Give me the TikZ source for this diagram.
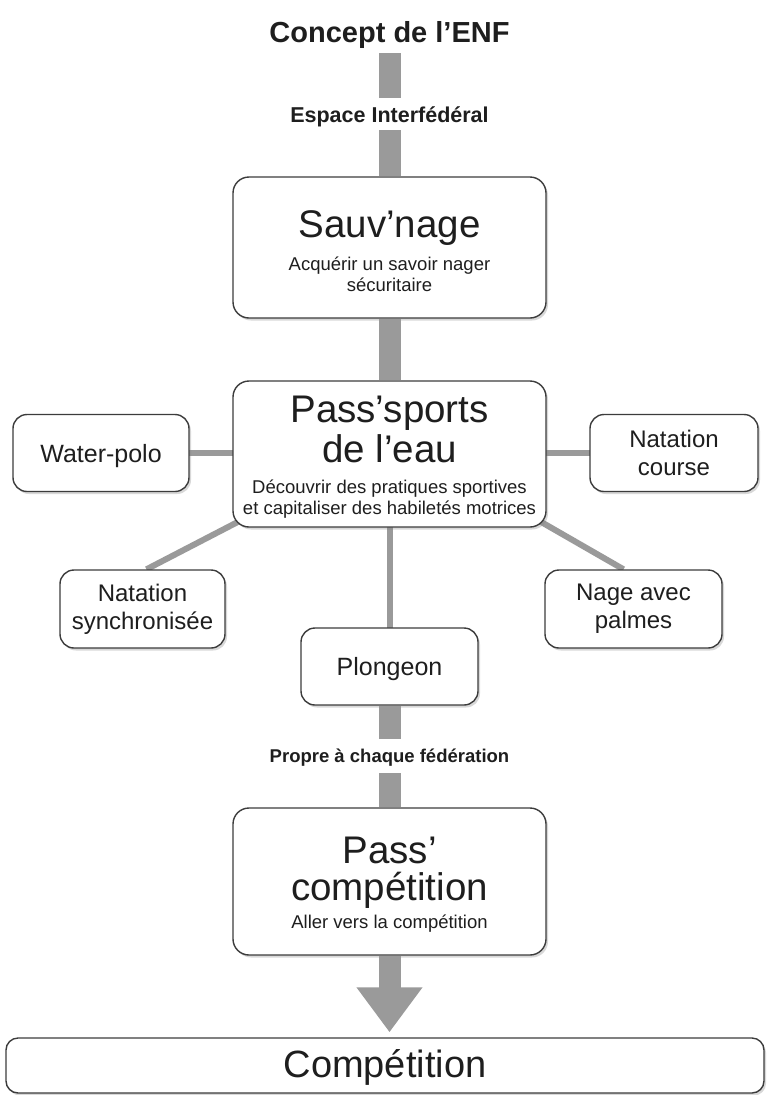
\documentclass[tikz,border=0pt]{standalone}
\usepackage{fontspec}
\setmainfont{Liberation Sans}
\usetikzlibrary{shadows,arrows.meta,backgrounds}
\definecolor{bargray}{HTML}{9A9A9A}
\definecolor{framegray}{HTML}{3C3C3C}
\definecolor{txt}{HTML}{1E1E1E}
\tikzset{
  box/.style={draw=framegray, line width=1.4pt, fill=white, rounded corners=16pt,
    inner sep=0pt, align=center, text=txt,
    drop shadow={shadow xshift=2pt, shadow yshift=-2.5pt, opacity=0.3}},
  smallbox/.style={box, rounded corners=14pt, minimum height=77pt,
    font=\fontsize{24}{28}\selectfont},
  bigbox/.style={box, minimum width=313pt},
  bigtext/.style={inner sep=0pt, anchor=base, text=txt, font=\fontsize{38.5}{40}\selectfont},
  subtext/.style={inner sep=0pt, anchor=base, text=txt, font=\fontsize{18.5}{21}\selectfont},
  lab/.style={inner sep=0pt, text=txt},
  bar/.style={draw=bargray, line width=22pt},
  conn/.style={draw=bargray, line width=6pt}
}
\begin{document}
\begin{tikzpicture}[x=1pt, y=-1pt]
\useasboundingbox (0,0) rectangle (767,1095);

% title and labels
\node[lab, anchor=base, text depth=11pt, font=\bfseries\fontsize{29}{32}\selectfont] (title) at (389.5,42) {Concept de l’ENF};
\node[lab, text height=24pt, text depth=8pt, font=\bfseries\fontsize{21.5}{24}\selectfont] (esp) at (389.5,114) {Espace Interfédéral};
\node[lab, text height=23pt, text depth=11pt, font=\bfseries\fontsize{18.5}{21}\selectfont] (prop) at (389.5,756) {Propre à chaque fédération};

% big boxes
\node[bigbox, minimum height=141pt] (sauv) at (389.5,247.5) {};
\node[bigtext] (sauvT) at (389.5,237) {Sauv’nage};
\node[subtext] (sauvS1) at (389.5,270) {Acquérir un savoir nager};
\node[subtext] (sauvS2) at (389.5,291) {sécuritaire};

\node[bigbox, minimum height=146pt] (pass) at (389.5,454) {};
\node[bigtext] (passT1) at (389.5,422) {Pass’sports};
\node[bigtext] (passT2) at (389.5,462) {de l’eau};
\node[subtext] (passS1) at (389.5,493) {Découvrir des pratiques sportives};
\node[subtext] (passS2) at (389.5,514) {et capitaliser des habiletés motrices};

\node[bigbox, minimum height=147pt] (comp) at (389.5,881.5) {};
\node[bigtext] (compT1) at (389.5,863) {Pass’};
\node[bigtext] (compT2) at (389.5,900) {compétition};
\node[subtext] (compS) at (389.5,928) {Aller vers la compétition};

% small boxes
\node[smallbox, minimum width=176pt, font=\fontsize{25}{28}\selectfont, text depth=0pt] (wp) at (101,453) {Water-polo};
\node[smallbox, minimum width=168pt] (nc) at (674,453) {Natation\\course};
\node[smallbox, minimum width=165pt, minimum height=78pt] (ns) at (142.5,609) {Natation\\synchronisée};
\node[smallbox, minimum width=177pt, minimum height=78pt] (nap) at (633.5,609) {Nage avec\\palmes};
\node[smallbox, minimum width=177pt, font=\fontsize{25}{28}\selectfont, text depth=0pt] (pl) at (389.5,666.5) {Plongeon};

% final box
\node[box, rounded corners=12pt, minimum width=758pt, minimum height=55pt,
  font=\fontsize{38}{40}\selectfont, text height=30pt, text depth=7pt] (final) at (385,1065.5) {Compétition};

% connectors behind boxes
\begin{pgfonlayer}{background}
\fill[white] (0,0) rectangle (767,1095);
\draw[conn] (wp.center) -- (wp.center -| pass.center);
\draw[conn] (nc.center) -- (nc.center -| pass.center);
\draw[conn] ([xshift=6pt,yshift=6pt]pass.south west) -- ([xshift=4pt]ns.north);
\draw[conn] ([xshift=-6pt,yshift=6pt]pass.south east) -- ([xshift=-10pt]nap.north);
\draw[conn] (pl.center) -- (pl.center |- pass.center);
\end{pgfonlayer}

% thick bars
\draw[bar] (title.south) -- (esp.north);
\draw[bar] (esp.south) -- (sauv.north);
\draw[bar] (sauv.south) -- (pass.north);
\draw[bar] (pl.south) -- (prop.north);
\draw[bar] (prop.south) -- (comp.north);
\draw[bar, -{Triangle[length=45pt,width=63pt]}, shorten >=5pt] (comp.south) -- (final.north -| comp.south);
\end{tikzpicture}
\end{document}
